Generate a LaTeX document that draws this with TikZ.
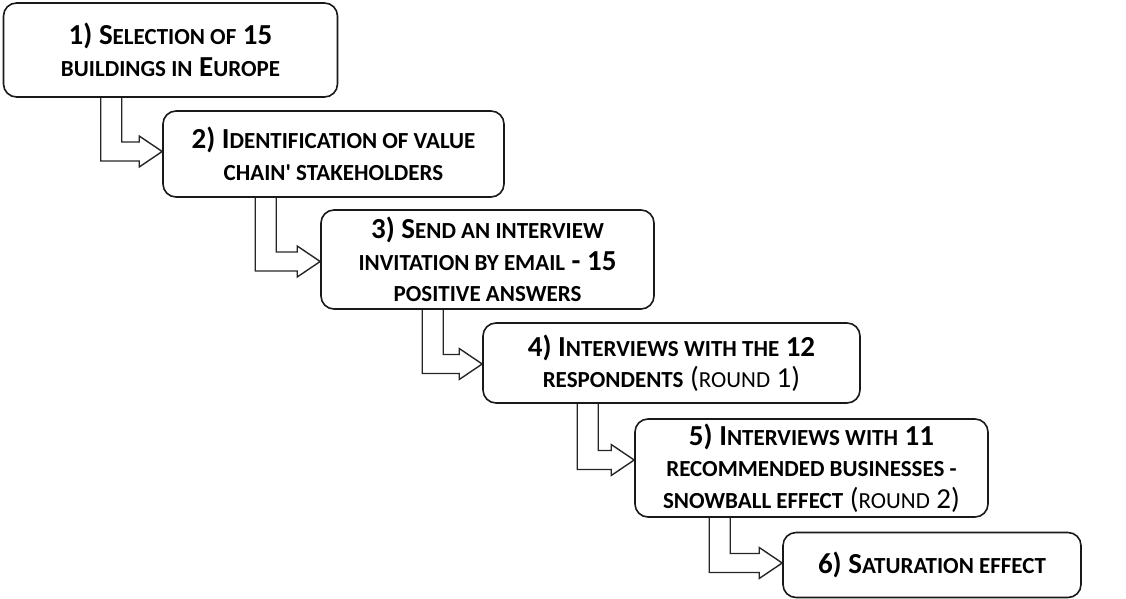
\documentclass[tikz,border=0pt]{standalone}
\usepackage{fontspec}
\setmainfont{Carlito}
\usetikzlibrary{calc,backgrounds}

% lowered capitals used for the small-caps look
\newcommand{\lc}[1]{{\fontsize{23}{31.5}\selectfont #1}}

\tikzset{
  stepbox/.style={draw=black!90, line width=1.6pt, rounded corners=13pt,
    fill=white, align=center, inner sep=0pt,
    font=\fontsize{29}{31.5}\selectfont\bfseries},
  flow/.style={draw=black!85, line width=1.4pt, fill=white, line join=miter}
}

% bent block arrow: leaves the bottom of #2 at horizontal offset #4
% from its lower left corner and points at the west side of #3
\newcommand{\bent}[4][0]{%
  \coordinate (s) at ($(#2.south west)+(#4,0)$);
  \coordinate (t) at ($(#3.west)+(0,#1)$);
  \begin{pgfonlayer}{background}
  \draw[flow] ($(s)+(21,0)$) -- ($(s|-t)+(21,-9.5)$) -- ($(t)+(-23,-9.5)$)
    -- ($(t)+(-23,-15.5)$) -- (t) -- ($(t)+(-23,15.5)$) -- ($(t)+(-23,9.5)$)
    -- ($(s|-t)+(0,9.5)$) -- (s);
  \end{pgfonlayer}}

\begin{document}
\begin{tikzpicture}[x=1pt,y=-1pt]
\useasboundingbox (0,0) rectangle (1126,599);

\node[stepbox, minimum width=334pt, minimum height=94pt] (b1) at (170.5,50)
  {1) S\lc{ELECTION OF} 15\\ \lc{BUILDINGS IN} E\lc{UROPE}};
\node[stepbox, minimum width=341pt, minimum height=86pt] (b2) at (333.5,154)
  {2) I\lc{DENTIFICATION OF VALUE}\\ \lc{CHAIN\textquotesingle{} STAKEHOLDERS}};
\node[stepbox, minimum width=333pt, minimum height=99pt] (b3) at (487.5,259.5)
  {3) S\lc{END AN INTERVIEW}\\ \lc{INVITATION BY EMAIL} - 15\\ \lc{POSITIVE ANSWERS}};
\node[stepbox, minimum width=377pt, minimum height=80pt] (b4) at (671.5,363)
  {4) I\lc{NTERVIEWS WITH THE} 12\\ \lc{RESPONDENTS} {\mdseries(\lc{ROUND} 1)}};
\node[stepbox, minimum width=353pt, minimum height=98pt] (b5) at (811.5,468)
  {5) I\lc{NTERVIEWS WITH} 11\\ \lc{RECOMMENDED BUSINESSES -}\\ \lc{SNOWBALL EFFECT} {\mdseries(\lc{ROUND} 2)}};
\node[stepbox, minimum width=298pt, minimum height=65pt] (b6) at (932,565)
  {6) S\lc{ATURATION EFFECT}};

\bent[-2.5]{b1}{b2}{98}
\bent[2]{b2}{b3}{93}
\bent[1]{b3}{b4}{102}
\bent[-8]{b4}{b5}{95}
\bent[-2]{b5}{b6}{75}
\end{tikzpicture}
\end{document}
